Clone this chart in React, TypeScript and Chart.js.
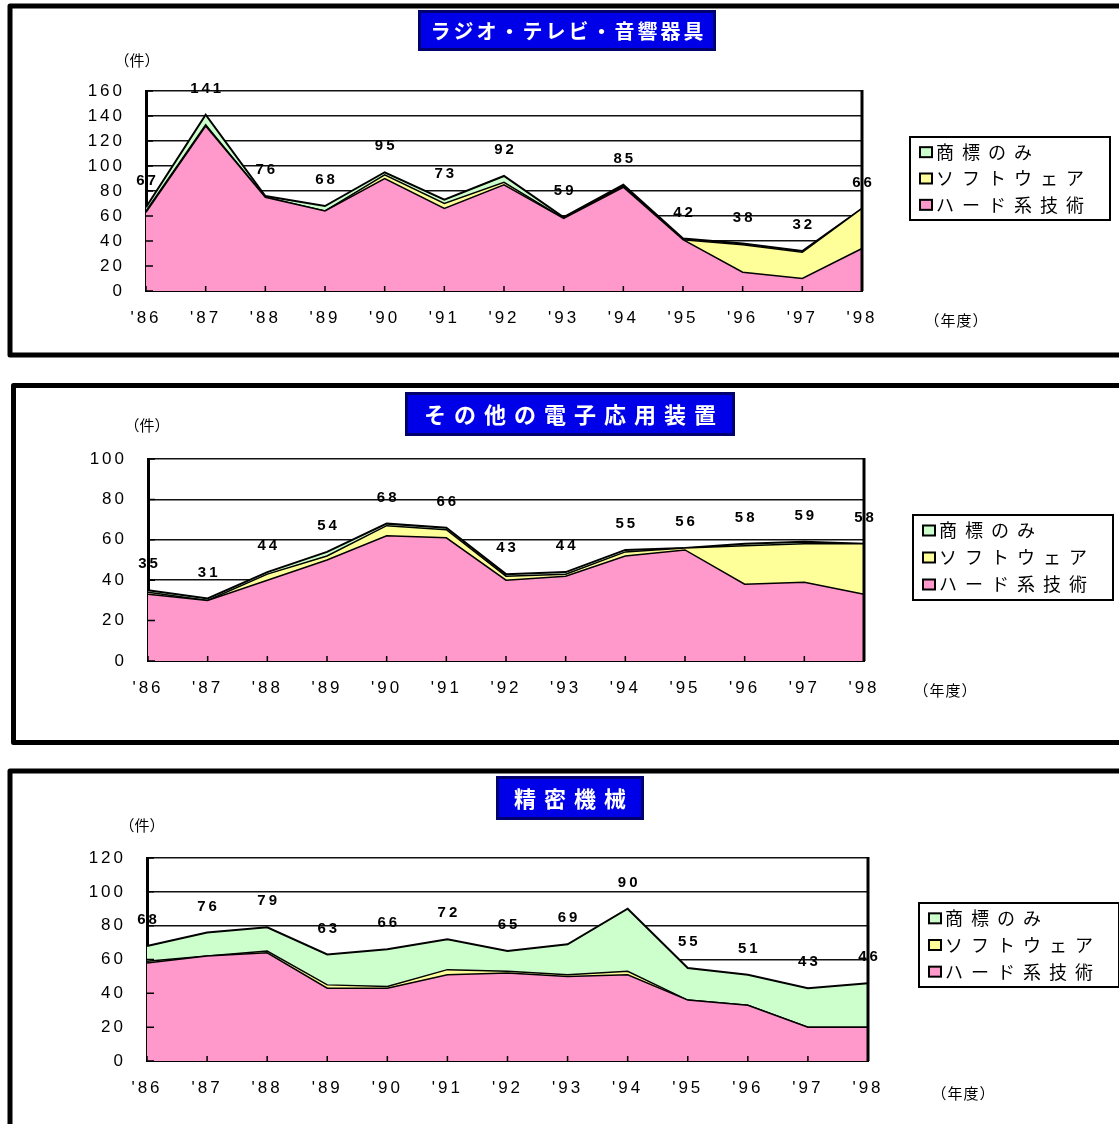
import { useEffect, useRef } from 'react';
import { Chart, registerables } from 'chart.js';

Chart.register(...registerables);

// ---- data -------------------------------------------------------------
const YEARS = ["'86", "'87", "'88", "'89", "'90", "'91", "'92", "'93", "'94", "'95", "'96", "'97", "'98"];

const SERIES_HARD = 'ハード系技術';
const SERIES_SOFT = 'ソフトウェア';
const SERIES_MARK = '商標のみ';

// ラジオ・テレビ・音響器具
const radioHard = [63, 132, 75, 64, 90, 66, 85, 58, 83, 41, 15, 10, 34];
const radioSoft = [1, 1, 0, 0, 3, 4, 2, 0, 1, 0, 22, 21, 32];
const radioMark = [3, 8, 1, 4, 2, 3, 5, 1, 1, 1, 1, 1, 0];
const radioMax = 160;

// その他の電子応用装置
const elecHard = [33, 30, 40, 50, 62, 61, 40, 42, 52, 55, 38, 39, 33];
const elecSoft = [1, 0, 3, 2, 5, 4, 2, 1, 2, 1, 19, 19, 25];
const elecMark = [1, 1, 1, 2, 1, 1, 1, 1, 1, 0, 1, 1, 0];
const elecMax = 100;

// 精密機械
const precHard = [58, 62, 64, 43, 43, 51, 52, 50, 51, 36, 33, 20, 20];
const precSoft = [1, 0, 1, 2, 1, 3, 1, 1, 2, 0, 0, 0, 0];
const precMark = [9, 14, 14, 18, 22, 18, 12, 18, 37, 19, 18, 23, 26];
const precMax = 120;

const TICK_STEP = 20;

// ---- styling ----------------------------------------------------------
const PINK = '#FF99CC';
const YELLOW = '#FFFF99';
const GREEN = '#CCFFCC';
const PAGE_W = 1119;
const Y_AXIS_W = 70;
const X_AXIS_H = 50;
const NUM_FONT = '"Liberation Sans", Arial, sans-serif';
const JP_FONT = '"Noto Sans CJK JP", "Noto Sans", sans-serif';

type Box = { l: number; t: number; r: number; b: number };
type Layout = {
  top: number;
  height: number;
  frame: { l: number; t: number; b: number };
  plot: Box;
  title: { text: string; x: number; y: number; w: number; h: number; size: number; spacing: number };
  unit: [number, number];
  yearUnit: [number, number];
  legend: { x: number; y: number; w: number; h: number };
  max: number;
  hard: number[];
  soft: number[];
  mark: number[];
};

const PANELS: Layout[] = [
  {
    top: 0,
    height: 370,
    frame: { l: 10, t: 6, b: 355 },
    plot: { l: 146, t: 91, r: 862, b: 291 },
    title: { text: 'ラジオ・テレビ・音響器具', x: 418, y: 10, w: 298, h: 41, size: 20, spacing: 3 },
    unit: [137, 60],
    yearUnit: [956, 320],
    legend: { x: 910, y: 137, w: 200, h: 83 },
    max: radioMax,
    hard: radioHard,
    soft: radioSoft,
    mark: radioMark,
  },
  {
    top: 370,
    height: 390,
    frame: { l: 13.5, t: 385.5, b: 742.5 },
    plot: { l: 148, t: 459, r: 864, b: 661 },
    title: { text: 'その他の電子応用装置', x: 405, y: 392, w: 330, h: 44, size: 22, spacing: 8 },
    unit: [147, 425],
    yearUnit: [945, 690],
    legend: { x: 913, y: 515, w: 200, h: 85 },
    max: elecMax,
    hard: elecHard,
    soft: elecSoft,
    mark: elecMark,
  },
  {
    top: 760,
    height: 364,
    frame: { l: 10, t: 771, b: 1160 },
    plot: { l: 147, t: 858, r: 868, b: 1061 },
    title: { text: '精密機械', x: 496, y: 776, w: 148, h: 44, size: 22, spacing: 8 },
    unit: [142, 825],
    yearUnit: [963, 1093],
    legend: { x: 919, y: 903, w: 200, h: 84 },
    max: precMax,
    hard: precHard,
    soft: precSoft,
    mark: precMark,
  },
];

function spaced(
  ctx: CanvasRenderingContext2D,
  text: string,
  x: number,
  y: number,
  font: string,
  spacing: number,
  color: string,
  align: CanvasTextAlign = 'left'
) {
  ctx.save();
  ctx.font = font;
  (ctx as any).letterSpacing = spacing + 'px';
  ctx.fillStyle = color;
  ctx.textBaseline = 'middle';
  ctx.textAlign = align;
  const dx = align === 'center' ? spacing / 2 : align === 'right' ? spacing : 0;
  ctx.fillText(text, x + dx, y);
  ctx.restore();
}

function decorPlugin(L: Layout) {
  const oy = L.top;
  return {
    id: 'panelDecor',
    beforeDraw(chart: any) {
      const ctx: CanvasRenderingContext2D = chart.ctx;
      ctx.save();
      ctx.fillStyle = '#fff';
      ctx.fillRect(0, 0, chart.width, chart.height);
      // frame around the panel
      ctx.strokeStyle = '#000';
      ctx.lineWidth = 5;
      ctx.lineJoin = 'round';
      ctx.strokeRect(L.frame.l, L.frame.t - oy, 2000, L.frame.b - L.frame.t);
      ctx.restore();
      (ctx as any).letterSpacing = '3px';
    },
    afterDatasetsDraw(chart: any) {
      const ctx: CanvasRenderingContext2D = chart.ctx;
      const xs = chart.scales.x;
      const ys = chart.scales.y;
      const area = chart.chartArea;
      ctx.save();
      ctx.strokeStyle = '#000';
      // right edge of the plot
      ctx.lineWidth = 3;
      ctx.beginPath();
      ctx.moveTo(area.right, area.top - 1);
      ctx.lineTo(area.right, area.bottom);
      ctx.stroke();
      // inward tick marks
      ctx.lineWidth = 1.5;
      ctx.beginPath();
      for (let v = 0; v <= L.max; v += TICK_STEP) {
        const py = ys.getPixelForValue(v);
        ctx.moveTo(area.left, py);
        ctx.lineTo(area.left + 7, py);
      }
      for (let i = 0; i < YEARS.length; i++) {
        const px = xs.getPixelForValue(i);
        ctx.moveTo(px, area.bottom);
        ctx.lineTo(px, area.bottom - 5);
      }
      ctx.stroke();
      ctx.restore();

      // totals above the stacks
      const ds = chart.data.datasets;
      for (let i = 0; i < YEARS.length; i++) {
        let total = 0;
        for (const d of ds) total += d.data[i];
        const px = xs.getPixelForValue(i);
        const py = ys.getPixelForValue(total) - 26;
        spaced(ctx, String(total), px, py, 'bold 15px ' + NUM_FONT, 3, '#000', 'center');
      }
    },
    afterDraw(chart: any) {
      const ctx: CanvasRenderingContext2D = chart.ctx;
      const T = L.title;
      // title plate
      ctx.save();
      ctx.fillStyle = '#00006E';
      ctx.fillRect(T.x, T.y - oy, T.w, T.h);
      ctx.fillStyle = '#0000E8';
      ctx.fillRect(T.x + 3, T.y - oy + 3, T.w - 6, T.h - 6);
      ctx.restore();
      spaced(ctx, T.text, T.x + T.w / 2, T.y - oy + T.h / 2 + 1, 'bold ' + T.size + 'px ' + JP_FONT, T.spacing, '#fff', 'center');

      // axis units
      spaced(ctx, '（件）', L.unit[0], L.unit[1] - oy, '15px ' + JP_FONT, 0, '#000', 'center');
      spaced(ctx, '（年度）', L.yearUnit[0], L.yearUnit[1] - oy, '15px ' + JP_FONT, 1, '#000', 'center');

      // legend
      const G = L.legend;
      ctx.save();
      ctx.strokeStyle = '#000';
      ctx.lineWidth = 2;
      ctx.strokeRect(G.x, G.y - oy, G.w, G.h);
      ctx.restore();
      const ds = chart.data.datasets;
      const items = [ds[2], ds[1], ds[0]];
      const rowH = (G.h - 4) / 3;
      items.forEach((d: any, k: number) => {
        const cy = G.y - oy + 2 + rowH * (k + 0.5);
        ctx.save();
        ctx.fillStyle = d.backgroundColor;
        ctx.fillRect(G.x + 10, cy - 5, 12, 10);
        ctx.strokeStyle = '#000';
        ctx.lineWidth = 2;
        ctx.strokeRect(G.x + 10, cy - 5, 12, 10);
        ctx.restore();
        spaced(ctx, d.label, G.x + 26, cy, '18px ' + JP_FONT, 8, '#000', 'left');
      });
    },
  };
}

function Panel({ layout }: { layout: Layout }) {
  const ref = useRef<HTMLCanvasElement>(null);
  useEffect(() => {
    const L = layout;
    const canvasBottom = L.top + L.height;
    const area = (color: string, label: string, data: number[], fill: any, width: number) => ({
      label,
      data,
      backgroundColor: color,
      borderColor: '#000',
      borderWidth: width,
      fill,
      pointRadius: 0,
      tension: 0,
    });
    const chart = new Chart(ref.current as HTMLCanvasElement, {
      type: 'line',
      data: {
        labels: YEARS,
        datasets: [
          area(PINK, SERIES_HARD, L.hard, 'origin', 1.5),
          area(YELLOW, SERIES_SOFT, L.soft, '-1', 1.5),
          area(GREEN, SERIES_MARK, L.mark, '-1', 2),
        ],
      },
      options: {
        animation: false,
        responsive: false,
        events: [],
        layout: {
          padding: {
            left: L.plot.l - Y_AXIS_W,
            top: L.plot.t - L.top,
            right: PAGE_W - L.plot.r,
            bottom: canvasBottom - L.plot.b - X_AXIS_H,
          },
        },
        plugins: {
          legend: { display: false },
          tooltip: { enabled: false },
          title: { display: false },
        },
        scales: {
          x: {
            type: 'category',
            offset: false,
            grid: { display: false, drawTicks: false },
            border: { display: true, color: '#000', width: 2 },
            ticks: {
              color: '#000',
              font: { family: NUM_FONT, size: 17 },
              padding: 17,
              maxRotation: 0,
              autoSkip: false,
            },
            afterFit: (s: any) => {
              s.height = X_AXIS_H;
            },
          },
          y: {
            stacked: true,
            min: 0,
            max: L.max,
            grid: { color: '#111', lineWidth: 1.5, drawTicks: false },
            border: { display: true, color: '#000', width: 3 },
            ticks: {
              stepSize: TICK_STEP,
              color: '#000',
              font: { family: NUM_FONT, size: 17 },
              padding: 21,
            },
            afterFit: (s: any) => {
              s.width = Y_AXIS_W;
            },
          },
        },
      } as any,
      plugins: [decorPlugin(L)],
    });
    return () => chart.destroy();
  }, [layout]);
  return (
    <canvas
      ref={ref}
      width={PAGE_W}
      height={layout.height}
      style={{ position: 'absolute', left: 0, top: layout.top, display: 'block' }}
    />
  );
}

export default function App() {
  return (
    <div
      style={{
        position: 'absolute',
        left: 0,
        top: 0,
        width: PAGE_W,
        height: 1124,
        overflow: 'hidden',
        background: '#fff',
      }}
    >
      {PANELS.map((p, i) => (
        <Panel key={i} layout={p} />
      ))}
    </div>
  );
}
